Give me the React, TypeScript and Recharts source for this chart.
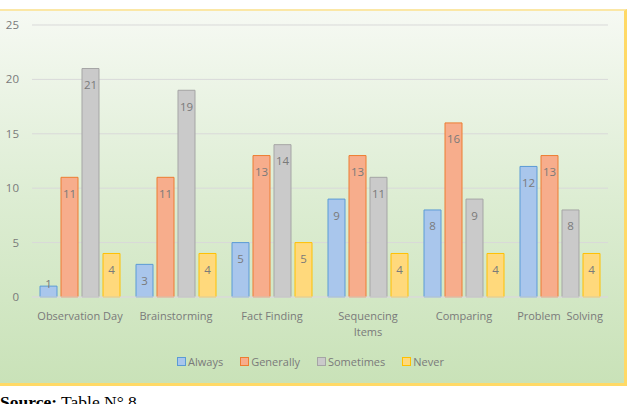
import React from "react";
import { BarChart, Bar, XAxis, YAxis, CartesianGrid, LabelList, Legend } from "recharts";

const categories = ["Observation Day", "Brainstorming", "Fact Finding", "Sequencing\nItems", "Comparing", "Problem  Solving"];
const always = [1, 3, 5, 9, 8, 12];
const generally = [11, 11, 13, 13, 16, 13];
const sometimes = [21, 19, 14, 11, 9, 8];
const never = [4, 4, 5, 4, 4, 4];
const yTicks = [0, 5, 10, 15, 20, 25];

const series = [
  { key: "always", name: "Always", fill: "#A9C6EC", stroke: "#5B9BD5" },
  { key: "generally", name: "Generally", fill: "#F7AD8C", stroke: "#ED7D31" },
  { key: "sometimes", name: "Sometimes", fill: "#CACACA", stroke: "#A5A5A5" },
  { key: "never", name: "Never", fill: "#FFD97C", stroke: "#FFC000" },
];

const data = categories.map((c, i) => ({
  category: c,
  always: always[i],
  generally: generally[i],
  sometimes: sometimes[i],
  never: never[i],
}));

const FONT = "'Open Sans', sans-serif";
const TEXT = "#7A7A7A";

const BarLabel = (props: any) => {
  const { x, y, width, height, value } = props;
  const cy = height < 20 ? y - 3 : y + 16;
  return (
    <text x={x + width / 2} y={cy} textAnchor="middle" dominantBaseline="central" fontSize={11.5} fontFamily={FONT} fill={TEXT}>
      {value}
    </text>
  );
};

const XTick = (props: any) => {
  const { x, y, payload } = props;
  const lines = String(payload.value).split("\n");
  return (
    <g>
      {lines.map((l, i) => (
        <text key={i} x={x} y={y + i * 16} textAnchor="middle" dominantBaseline="central" fontSize={11} fontFamily={FONT} fill={TEXT} style={{ whiteSpace: "pre" }}>
          {l}
        </text>
      ))}
    </g>
  );
};

const LegendContent = () => (
  <div style={{ display: "flex", justifyContent: "center", alignItems: "center", fontFamily: FONT, fontSize: 11, color: TEXT, height: 16 }}>
    {series.map((s) => (
      <div key={s.key} style={{ display: "flex", alignItems: "center", marginRight: 17 }}>
        <span style={{ display: "inline-block", width: 7, height: 7, background: s.fill, border: `1px solid ${s.stroke}`, marginRight: 2 }} />
        <span>{s.name}</span>
      </div>
    ))}
  </div>
);

export default function App() {
  return (
    <div style={{ position: "relative", width: 630, height: 404, overflow: "hidden", background: "#fff" }}>
      <style>{`html,body{margin:0;padding:0;}`}</style>
      <div
        style={{
          position: "absolute",
          left: -3,
          top: 9,
          width: 625,
          height: 372,
          borderTop: "2px solid #FBE7A6",
          borderLeft: "2px solid #FFD966",
          borderRight: "3px solid #FFD966",
          borderBottom: "3px solid #FFD966",
          background: "linear-gradient(to bottom, #F6F9F3 0%, #DDEDD3 50%, #C9E2B8 100%)",
        }}
      />
      <div style={{ position: "absolute", left: 0, top: 0 }}>
        <BarChart
          width={630}
          height={404}
          data={data}
          margin={{ top: 25, right: 22, left: 0, bottom: 51 }}
          barCategoryGap={8}
          barGap={4}
        >
          <CartesianGrid vertical={false} stroke="#D9D9D9" />
          <XAxis
            dataKey="category"
            tick={<XTick />}
            tickLine={false}
            axisLine={{ stroke: "#D9D9D9" }}
            tickSize={0}
            tickMargin={18}
            interval={0}
            height={40}
          />
          <YAxis
            domain={[0, 25]}
            ticks={yTicks}
            width={32}
            tickLine={false}
            axisLine={false}
            tickSize={0}
            tickMargin={13}
            tick={{ fontSize: 11.5, fontFamily: FONT, fill: TEXT }}
          />
          <Legend
            content={<LegendContent />}
            wrapperStyle={{ position: "absolute", top: 353, left: 0, width: 638, height: 16 }}
          />
          {series.map((s) => (
            <Bar key={s.key} dataKey={s.key} name={s.name} fill={s.fill} stroke={s.stroke} strokeWidth={1} isAnimationActive={false}>
              <LabelList dataKey={s.key} content={<BarLabel />} />
            </Bar>
          ))}
        </BarChart>
      </div>
      <div style={{ position: "absolute", left: 0, top: 392, fontFamily: "'Liberation Serif', 'Times New Roman', serif", fontSize: 17.5, lineHeight: "normal", color: "#000", whiteSpace: "nowrap" }}>
        <b>Source:</b> Table N° 8
      </div>
    </div>
  );
}
